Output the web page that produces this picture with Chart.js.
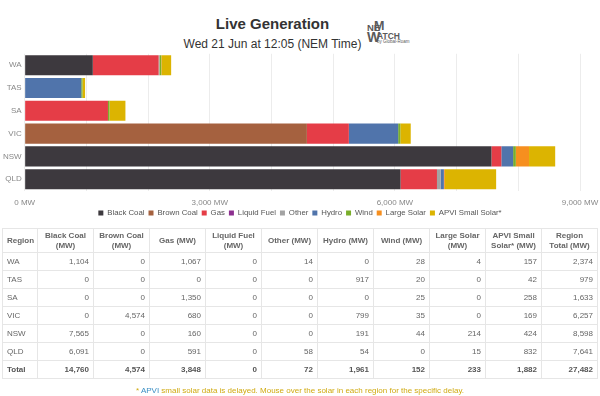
<!DOCTYPE html>
<html>
<head>
<meta charset="utf-8">
<script src="https://cdn.jsdelivr.net/npm/chart.js@4/dist/chart.umd.min.js"></script>
<style>
  html, body { margin:0; padding:0; background:#fff; width:600px; height:396px; overflow:hidden; font-family:"Liberation Sans", Arial, sans-serif; }
  #title { position:absolute; left:0; top:15px; width:545px; text-align:center; font-size:15px; font-weight:bold; color:#333; line-height:18px; }
  #subtitle { position:absolute; left:0; top:37px; width:545px; text-align:center; font-size:12px; color:#333; line-height:15px; }
  #logo { position:absolute; left:366px; top:17px; width:60px; height:34px; color:#5a5a5a; font-weight:bold; }
  #logo span { position:absolute; line-height:1; white-space:nowrap; }
  #chartBox { position:absolute; left:0; top:46px; width:600px; height:190px; }
  table { position:absolute; left:2px; top:228px; width:596px; border-collapse:collapse; table-layout:fixed; font-size:8px; color:#666; }
  th, td { border:1px solid #e6e6e6; padding:0 4px; }
  th { height:23px; font-weight:bold; color:#666; text-align:center; line-height:10px; }
  td { height:17px; text-align:right; }
  td:first-child, th:first-child { text-align:left; }
  tr.total td { font-weight:bold; color:#555; border-top:1px solid #d8d8d8; }
  #note { position:absolute; left:0; top:386px; width:600px; text-align:center; font-size:8px; color:#d0aa10; }
  #note .a { color:#3b8fc4; }
</style>
</head>
<body>
<div id="title">Live Generation</div>
<div id="subtitle">Wed 21 Jun at 12:05 (NEM Time)</div>
<div id="logo">
  <span style="left:1px;top:5.8px;font-size:9.5px;">NE</span>
  <span style="left:8px;top:3.1px;font-size:12.5px;">M</span>
  <span style="left:1px;top:13.2px;font-size:14px;">W</span>
  <span style="left:11px;top:15.2px;font-size:8.5px;">ATCH</span>
  <span style="left:11px;top:22.5px;font-size:4.5px;font-weight:normal;">by Global-Roam</span>
</div>
<div id="chartBox"><canvas id="c"></canvas></div>
<table id="tbl"></table>
<div id="note"><span>* </span><span class="a">APVI</span> small solar data is delayed. Mouse over the solar in each region for the specific delay.</div>
<script>
const regions = ["WA", "TAS", "SA", "VIC", "NSW", "QLD"];
const fuelNames = ["Black Coal", "Brown Coal", "Gas", "Liquid Fuel", "Other", "Hydro", "Wind", "Large Solar", "APVI Small Solar*"];
const blackCoal  = [1104, 0, 0, 0, 7565, 6091];
const brownCoal  = [0, 0, 0, 4574, 0, 0];
const gas        = [1067, 0, 1350, 680, 160, 591];
const liquidFuel = [0, 0, 0, 0, 0, 0];
const other      = [14, 0, 0, 0, 0, 58];
const hydro      = [0, 917, 0, 799, 191, 54];
const wind       = [28, 20, 25, 35, 44, 0];
const largeSolar = [4, 0, 0, 0, 214, 15];
const smallSolar = [157, 42, 258, 169, 424, 832];
const xTickLabels = [0, 3000, 6000, 9000];
const tableHeaders = ["Region", "Black Coal (MW)", "Brown Coal (MW)", "Gas (MW)", "Liquid Fuel (MW)", "Other (MW)", "Hydro (MW)", "Wind (MW)", "Large Solar (MW)", "APVI Small Solar* (MW)", "Region Total (MW)"];

const series = [blackCoal, brownCoal, gas, liquidFuel, other, hydro, wind, largeSolar, smallSolar];
const colors = ["#3d393e", "#a5613f", "#e53d47", "#8c2f8f", "#a3a3a3", "#5074ab", "#7aae2b", "#f68f1f", "#dcb401"];
const fam = "'Liberation Sans', Arial, sans-serif";

const fmt = v => v.toLocaleString("en-US");

// move the legend up a bit, closer to the x-axis labels
const legendShift = {
  id: "legendShift",
  afterLayout(chart) {
    const lg = chart.legend;
    if (lg) { lg.top -= 9; lg.bottom -= 9; }
  }
};

new Chart(document.getElementById("c"), {
  type: "bar",
  data: {
    labels: regions,
    datasets: series.map((d, i) => ({
      label: fuelNames[i], data: d, backgroundColor: colors[i], borderWidth: 0,
      barPercentage: 0.88, categoryPercentage: 1
    }))
  },
  options: {
    indexAxis: "y",
    responsive: true,
    maintainAspectRatio: false,
    animation: false,
    layout: { padding: { top: 2, left: 0, right: 0, bottom: 0 } },
    scales: {
      x: {
        stacked: true, min: 0, max: 9000,
        border: { display: false },
        grid: { color: "#ececec", drawTicks: false },
        afterFit: s => { s.paddingRight = 20; },
        ticks: {
          stepSize: 1000, autoSkip: false, maxRotation: 0, padding: 7,
          color: "#888", font: { size: 8, family: fam },
          callback: v => xTickLabels.includes(v) ? fmt(v) + " MW" : ""
        }
      },
      y: {
        stacked: true,
        border: { display: false },
        grid: { display: false, drawTicks: false },
        ticks: { color: "#888", padding: 3, font: { size: 8, family: fam } }
      }
    },
    plugins: {
      legend: {
        position: "bottom",
        labels: { boxWidth: 5, boxHeight: 5, padding: 4, color: "#555", font: { size: 7.8, family: fam } }
      },
      tooltip: { enabled: false }
    }
  },
  plugins: [legendShift]
});

// table
const tbl = document.getElementById("tbl");
let html = "<colgroup><col style='width:35px'>" + "<col style='width:56px'>".repeat(10) + "</colgroup>";
html += "<tr>" + tableHeaders.map(h => "<th>" + h + "</th>").join("") + "</tr>";
const colTotals = new Array(series.length + 1).fill(0);
regions.forEach((r, ri) => {
  let sum = 0;
  html += "<tr><td>" + r + "</td>";
  series.forEach((s, si) => { sum += s[ri]; colTotals[si] += s[ri]; html += "<td>" + fmt(s[ri]) + "</td>"; });
  colTotals[series.length] += sum;
  html += "<td>" + fmt(sum) + "</td></tr>";
});
html += "<tr class='total'><td>Total</td>" + colTotals.map(v => "<td>" + fmt(v) + "</td>").join("") + "</tr>";
tbl.innerHTML = html;
</script>
</body>
</html>
